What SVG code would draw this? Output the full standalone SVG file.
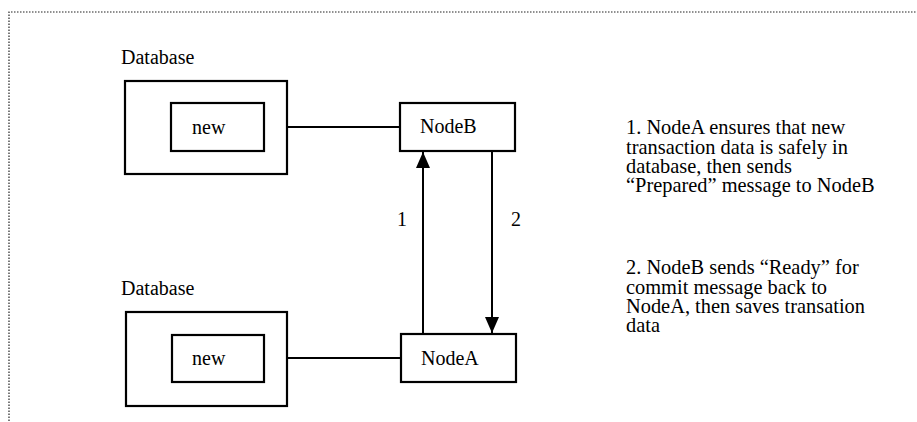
<svg xmlns="http://www.w3.org/2000/svg" width="917" height="422" viewBox="0 0 917 422">
  <style>
    .frame { fill: none; stroke: #222; stroke-width: 1.2; stroke-dasharray: 1.5 1.5; }
    .box { fill: #fff; stroke: #000; stroke-width: 2.2; }
    .wire { fill: none; stroke: #000; stroke-width: 2; }
    .t { font-size: 20px; fill: #000; }
  </style>
  <defs>
    <marker id="arrow" viewBox="0 0 16 14" refX="16" refY="7" markerWidth="16" markerHeight="14" markerUnits="userSpaceOnUse" orient="auto">
      <path d="M0,0 L16,7 L0,14 Z" fill="#000"/>
    </marker>
  </defs>

  <rect width="917" height="422" fill="#fff"/>

  <!-- dotted page frame, open to the right and bottom -->
  <path class="frame" d="M9,430 L9,12 L925,12"/>

  <g font-family="'Liberation Serif', 'Times New Roman', 'DejaVu Serif', serif">
    <!-- connectors -->
    <g id="connectors">
      <line class="wire" x1="287" y1="127" x2="400" y2="127"/>
      <line class="wire" x1="287" y1="358" x2="401" y2="358"/>
      <line class="wire" x1="423" y1="334" x2="423" y2="152" marker-end="url(#arrow)"/>
      <line class="wire" x1="492" y1="151" x2="492" y2="333" marker-end="url(#arrow)"/>
      <text class="t" x="397" y="226">1</text>
      <text class="t" x="511" y="226">2</text>
    </g>

    <!-- upper database -->
    <g id="database-top">
      <text class="t" x="121" y="64">Database</text>
      <rect class="box" x="125" y="81" width="162" height="93"/>
      <rect class="box" x="171" y="103" width="93" height="48"/>
      <text class="t" x="192" y="134">new</text>
    </g>

    <!-- lower database -->
    <g id="database-bottom">
      <text class="t" x="121" y="295">Database</text>
      <rect class="box" x="126" y="312" width="161" height="94"/>
      <rect class="box" x="172" y="335" width="92" height="47"/>
      <text class="t" x="192" y="365">new</text>
    </g>

    <g id="nodeB">
      <rect class="box" x="400" y="103" width="115" height="48"/>
      <text class="t" x="420" y="133">NodeB</text>
    </g>

    <g id="nodeA">
      <rect class="box" x="401" y="334" width="115" height="48"/>
      <text class="t" x="421" y="365">NodeA</text>
    </g>

    <!-- step notes, tightly leaded -->
    <g id="notes">
      <text class="t" x="626" y="134.3" style="font-size:20.4px">
        <tspan x="626" y="134.3">1. NodeA ensures that new</tspan>
        <tspan x="626" y="153.6">transaction data is safely in</tspan>
        <tspan x="626" y="173">database, then sends</tspan>
        <tspan x="626" y="192.3">“Prepared” message to NodeB</tspan>
      </text>
      <text class="t" x="626" y="274.3" style="font-size:20.4px">
        <tspan x="626" y="274.3">2. NodeB sends “Ready” for</tspan>
        <tspan x="626" y="293.6">commit message back to</tspan>
        <tspan x="626" y="313">NodeA, then saves transation</tspan>
        <tspan x="626" y="332.3">data</tspan>
      </text>
    </g>
  </g>
</svg>
